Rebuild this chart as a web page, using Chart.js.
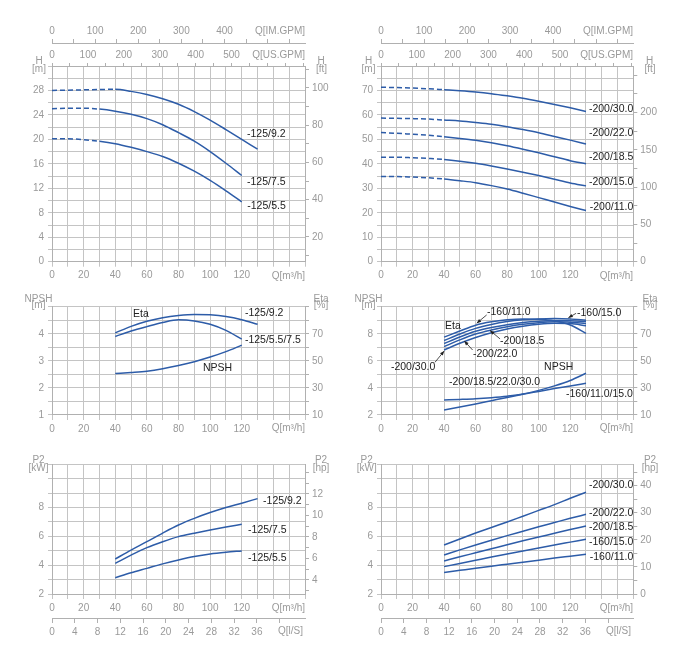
<!DOCTYPE html>
<html><head><meta charset="utf-8">
<script src="https://cdn.jsdelivr.net/npm/chart.js@4/dist/chart.umd.min.js"></script>
<style>
html,body{margin:0;padding:0;background:#fff;}
#wrap{position:relative;width:697px;height:646px;overflow:hidden;}
canvas{position:absolute;left:0;top:0;width:697px;height:646px;}
</style></head><body><div id="wrap">
<canvas id="c0" width="697" height="646"></canvas>
<canvas id="c1" width="697" height="646"></canvas>
<canvas id="c2" width="697" height="646"></canvas>
<canvas id="c3" width="697" height="646"></canvas>
<canvas id="c4" width="697" height="646"></canvas>
<canvas id="c5" width="697" height="646"></canvas>
</div>
<script>
// ---------------- DATA ----------------
const Q_H130 = [0,10,20,30,40,50,60,70,80,90,100,110,120,130];
const Q_H120 = [0,10,20,30,40,50,60,70,80,90,100,110,120];
const Q_OP130 = [40,50,60,70,80,90,100,110,120,130];
const Q_OP120 = [40,50,60,70,80,90,100,110,120];

// Head curves [m]
const head_125_9_2 = [28.0,28.05,28.1,28.15,28.2,27.85,27.35,26.65,25.75,24.55,23.15,21.6,20.0,18.4];
const head_125_7_5 = [25.0,25.1,25.1,24.95,24.6,24.1,23.4,22.4,21.1,19.7,18.0,16.1,14.1];
const head_125_5_5 = [20.1,20.1,19.95,19.7,19.3,18.7,18.0,17.2,16.1,14.8,13.3,11.6,9.8];

const head_200_30 = [71.3,71.2,71.0,70.7,70.3,69.9,69.4,68.7,67.8,66.8,65.6,64.3,62.9,61.4];
const head_200_22 = [58.7,58.6,58.5,58.3,57.9,57.5,56.9,56.2,55.2,54.0,52.7,51.2,49.7,48.1];
const head_200_18_5 = [52.8,52.5,52.1,51.7,51.1,50.4,49.6,48.6,47.4,46.0,44.5,42.9,41.3,40.0];
const head_200_15 = [42.7,42.7,42.5,42.2,41.8,41.1,40.2,39.1,37.9,36.6,35.2,33.7,32.2,31.0];
const head_200_11 = [34.8,34.8,34.6,34.3,33.8,33.1,32.3,31.1,29.7,28.0,26.2,24.4,22.6,20.9];

// Efficiency [%] and NPSH [m]
const eta_125_9_2 = [70.7,75.5,79.3,81.9,83.5,84.3,84.0,82.8,80.4,77.0];
const eta_125_55_75 = [68.0,72.0,75.3,78.3,80.3,79.5,77.0,72.5,66.0];
const npsh_125 = [2.53,2.57,2.62,2.71,2.83,2.97,3.14,3.34,3.58];

const eta_160_11 = [67.5,72.0,76.3,78.8,80.3,81.0,80.8,79.6,76.5,70.3];
const eta_160_15 = [65.0,69.8,74.0,76.9,79.0,80.3,81.0,81.3,81.0,80.0];
const eta_200_18_5 = [62.8,67.6,71.8,74.6,76.7,78.3,79.3,79.8,79.7,79.0];
const eta_200_22 = [60.5,65.5,69.8,72.8,75.2,77.0,78.2,78.8,78.6,77.5];
const eta_200_30 = [58.0,63.0,67.3,70.8,73.6,75.6,77.0,77.7,77.5,76.0];
const npsh_200 = [3.11,3.15,3.2,3.28,3.39,3.55,3.82,4.15,4.55,5.08];
const npsh_160 = [2.37,2.59,2.82,3.06,3.30,3.53,3.74,3.95,4.15,4.34];

// Power P2 [kW]
const p2_125_9_2 = [4.43,5.05,5.63,6.23,6.79,7.25,7.65,8.0,8.30,8.62];
const p2_125_7_5 = [4.13,4.7,5.22,5.63,5.98,6.22,6.44,6.65,6.84];
const p2_125_5_5 = [3.13,3.47,3.78,4.09,4.36,4.6,4.78,4.9,4.99];

const p2_200_30 = [5.40,5.82,6.23,6.62,7.0,7.4,7.8,8.2,8.64,9.06];
const p2_200_22 = [4.71,5.06,5.40,5.73,6.05,6.36,6.67,6.96,7.25,7.53];
const p2_200_18_5 = [4.29,4.58,4.86,5.14,5.42,5.69,5.95,6.21,6.47,6.72];
const p2_160_15 = [3.90,4.12,4.34,4.56,4.77,4.98,5.19,5.40,5.60,5.80];
const p2_160_11 = [3.50,3.64,3.78,3.93,4.07,4.21,4.35,4.49,4.62,4.75];

// Tick labels
const Q_LABELS = [0,20,40,60,80,100,120];
const USGPM_LABELS = [0,100,200,300,400,500];
const IMGPM_LABELS = [0,100,200,300,400];
const LS_LABELS = [0,4,8,12,16,20,24,28,32,36];
const H125_LABELS = [0,4,8,12,16,20,24,28];
const FT125_LABELS = [20,40,60,80,100];
const H200_LABELS = [0,10,20,30,40,50,60,70];
const FT200_LABELS = [0,50,100,150,200];
const NPSH125_LABELS = [1,2,3,4];
const NPSH200_LABELS = [2,4,6,8];
const ETA_LABELS = [10,30,50,70];
const KW_LABELS = [2,4,6,8];
const HP125_LABELS = [4,6,8,10,12];
const HP200_LABELS = [0,10,20,30,40];

// unit conversions for secondary axes
const Q_MAX = 160;
const TO_USGPM = 4.40287, TO_IMGPM = 3.66615, TO_LS = 1/3.6;

// ---------------- STYLE ----------------
const FONT = '"Liberation Sans", Arial, sans-serif';
const BLUE = '#2d5ca8';
const GRID = '#c4c4c4';
const BORDER = '#b0b0b0';
const TICK = '#9a9a9a';
const TEXT = '#222222';

const fixW = w => s => { s.width = w; s.paddingTop = 0; s.paddingBottom = 0; s.paddingLeft = 0; s.paddingRight = 0; };
const fixH = h => s => { s.height = h; s.paddingTop = 0; s.paddingBottom = 0; s.paddingLeft = 0; s.paddingRight = 0; };
const lab = arr => v => arr.includes(v) ? String(v) : '';
const tickFont = {size: 10, family: FONT, lineHeight: 1.2};

function xQ(h) {
  return {type:'linear', position:'bottom', weight:0, min:0, max:Q_MAX, afterFit:fixH(h),
    grid:{color:GRID, tickColor:GRID, tickLength:5}, border:{color:BORDER},
    ticks:{stepSize:10, autoSkip:false, maxRotation:0, minRotation:0, padding:3, color:TICK, font:tickFont, callback:lab(Q_LABELS)}};
}
function xTop(max, step, labels, h, weight, tl, pad) {
  return {type:'linear', position:'top', weight, min:0, max, afterFit:fixH(h),
    grid:{drawOnChartArea:false, tickColor:BORDER, tickLength:tl}, border:{color:BORDER},
    ticks:{stepSize:step, includeBounds:false, autoSkip:false, maxRotation:0, minRotation:0, padding:pad, color:TICK, font:tickFont, callback:lab(labels)}};
}
function xLs(h) {
  return {type:'linear', position:'bottom', weight:1, min:0, max:Q_MAX*TO_LS, afterFit:fixH(h),
    afterBuildTicks: s => { s.ticks = s.ticks.filter(t => t.value <= 40); },
    grid:{drawOnChartArea:false, tickColor:BORDER, tickLength:5}, border:{color:BORDER},
    ticks:{stepSize:4, includeBounds:false, autoSkip:false, maxRotation:0, minRotation:0, padding:3, color:TICK, font:tickFont, callback:lab(LS_LABELS)}};
}
function yLeft(min, max, step, labels) {
  return {type:'linear', position:'left', min, max, afterFit:fixW(40),
    grid:{color:GRID, tickColor:GRID, tickLength:4}, border:{color:BORDER},
    ticks:{stepSize:step, autoSkip:false, padding:4, color:TICK, font:tickFont, callback:lab(labels)}};
}
function yRight(min, max, step, labels) {
  return {type:'linear', position:'right', min, max, afterFit:fixW(40),
    grid:{drawOnChartArea:false, tickColor:BORDER, tickLength:4}, border:{color:BORDER},
    ticks:{stepSize:step, includeBounds:false, autoSkip:false, padding:3, color:TICK, font:tickFont, callback:lab(labels)}};
}

function series(q, v, yAxisID, dashEnd) {
  const ds = {data: q.map((x,i)=>({x, y:v[i]})), yAxisID, borderColor:BLUE, borderWidth:1.5,
    pointRadius:0, fill:false, cubicInterpolationMode:'monotone'};
  if (dashEnd !== undefined) ds.segment = {borderDash: c => c.p1.parsed.x <= dashEnd ? [5,3] : undefined};
  return ds;
}

function annot(items) {
  return {id:'annot', afterDatasetsDraw(chart) {
    const ctx = chart.ctx; ctx.save();
    for (const it of items) {
      const ys = chart.scales[it.axis || 'y'];
      if (it.arrow) {
        const [q0,v0,q1,v1] = it.arrow;
        const x0 = chart.scales.x.getPixelForValue(q0), y0 = ys.getPixelForValue(v0);
        const x1 = chart.scales.x.getPixelForValue(q1), y1 = ys.getPixelForValue(v1);
        ctx.strokeStyle = TEXT; ctx.fillStyle = TEXT; ctx.lineWidth = 0.8;
        ctx.beginPath(); ctx.moveTo(x0,y0); ctx.lineTo(x1,y1); ctx.stroke();
        const a = Math.atan2(y1-y0, x1-x0), L = 4.5, W = 1.8;
        ctx.beginPath(); ctx.moveTo(x1,y1);
        ctx.lineTo(x1 - L*Math.cos(a) + W*Math.sin(a), y1 - L*Math.sin(a) - W*Math.cos(a));
        ctx.lineTo(x1 - L*Math.cos(a) - W*Math.sin(a), y1 - L*Math.sin(a) + W*Math.cos(a));
        ctx.closePath(); ctx.fill();
        continue;
      }
      ctx.font = (it.size || 10) + 'px ' + FONT;
      ctx.fillStyle = it.color || TEXT;
      ctx.textAlign = it.align || 'left';
      ctx.textBaseline = 'middle';
      let x, y;
      if (it.q !== undefined) { x = chart.scales.x.getPixelForValue(it.q); y = ys.getPixelForValue(it.v); }
      else { x = it.px; y = it.py; }
      ctx.fillText(it.s, x, y);
    }
    ctx.restore();
  }};
}

const W = 697, H = 646;
function make(id, area, scales, topH, botH, datasets, items) {
  const padding = {left: area.l - 40, right: W - area.r - 40, top: area.t - topH, bottom: H - area.b - botH};
  return new Chart(document.getElementById(id), {
    type:'line',
    data:{datasets},
    options:{responsive:false, animation:false, events:[], devicePixelRatio:1,
      layout:{padding, autoPadding:false},
      plugins:{legend:{display:false}, tooltip:{enabled:false}, title:{display:false}},
      scales},
    plugins:[annot(items)]
  });
}
const T = (s, px, py, align, color, size) => ({s, px, py, align: align || 'center', color: color || TICK, size: size || 10});
const L = (s, q, v, align, axis) => ({s, q, v, align: align || 'left', axis, size: 10.5});

// ---------------- PANELS ----------------
const AL = {l:52, r:305}, AR = {l:381, r:633.3};

// Top-left: head 125
make('c0', {...AL, t:66, b:261.7}, {
  x: xQ(22),
  xus: xTop(Q_MAX*TO_USGPM, 50, USGPM_LABELS, 23, 0, 3, 2),
  xim: xTop(Q_MAX*TO_IMGPM, 50, IMGPM_LABELS, 20, 1, 4, 2),
  y: yLeft(0, 32, 2, H125_LABELS),
  y2: yRight((0+2.05)/0.3048, (32+2.05)/0.3048, 10, FT125_LABELS)
}, 43, 22, [
  series(Q_H130, head_125_9_2, 'y', 40),
  series(Q_H120, head_125_7_5, 'y', 30),
  series(Q_H120, head_125_5_5, 'y', 30)
], [
  L('-125/9.2', 123.3, 20.9), L('-125/7.5', 123.3, 13.0), L('-125/5.5', 123.5, 9.1),
  T('Q[IM.GPM]', 305, 31, 'right'), T('Q[US.GPM]', 305, 55, 'right'), T('Q[m³/h]', 305, 276, 'right'),
  T('H', 39, 61.7), T('[m]', 39, 69.5), T('H', 321, 61.7), T('[ft]', 321.5, 69.5)
]);

// Top-right: head 200
make('c1', {...AR, t:66, b:261.7}, {
  x: xQ(22),
  xus: xTop(Q_MAX*TO_USGPM, 50, USGPM_LABELS, 23, 0, 3, 2),
  xim: xTop(Q_MAX*TO_IMGPM, 50, IMGPM_LABELS, 20, 1, 4, 2),
  y: yLeft(0, 80, 5, H200_LABELS),
  y2: yRight(0, 80/0.3048, 25, FT200_LABELS)
}, 43, 22, [
  series(Q_H130, head_200_30, 'y', 40),
  series(Q_H130, head_200_22, 'y', 40),
  series(Q_H130, head_200_18_5, 'y', 40),
  series(Q_H130, head_200_15, 'y', 40),
  series(Q_H130, head_200_11, 'y', 40)
], [
  L('-200/30.0', 160, 62.3, 'right'), L('-200/22.0', 160, 52.7, 'right'), L('-200/18.5', 160, 42.9, 'right'),
  L('-200/15.0', 160, 32.7, 'right'), L('-200/11.0', 160, 22.5, 'right'),
  T('Q[IM.GPM]', 633, 31, 'right'), T('Q[US.GPM]', 633, 55, 'right'), T('Q[m³/h]', 633, 276, 'right'),
  T('H', 368.5, 61.7), T('[m]', 368.5, 69.5), T('H', 649.5, 61.7), T('[ft]', 650, 69.5)
]);

// Middle-left: Eta / NPSH 125
make('c2', {...AL, t:306.7, b:415}, {
  x: xQ(22),
  y: yLeft(1, 5, 0.5, NPSH125_LABELS),
  y2: yRight(10, 90, 10, ETA_LABELS)
}, 0, 22, [
  series(Q_OP130, eta_125_9_2, 'y2'),
  series(Q_OP120, eta_125_55_75, 'y2'),
  series(Q_OP120, npsh_125, 'y')
], [
  L('Eta', 51.2, 4.73), L('-125/9.2', 122, 4.77), L('-125/5.5/7.5', 122, 3.77), L('NPSH', 95.5, 2.74),
  T('Q[m³/h]', 305, 428.3, 'right'),
  T('NPSH', 38.5, 299.5), T('[m]', 38.5, 305.5), T('Eta', 321, 299.5), T('[%]', 321, 305.5)
]);

// Middle-right: Eta / NPSH 160-200
make('c3', {...AR, t:306.7, b:415}, {
  x: xQ(22),
  y: yLeft(2, 10, 1, NPSH200_LABELS),
  y2: yRight(10, 90, 10, ETA_LABELS)
}, 0, 22, [
  series(Q_OP130, eta_160_11, 'y2'),
  series(Q_OP130, eta_160_15, 'y2'),
  series(Q_OP130, eta_200_18_5, 'y2'),
  series(Q_OP130, eta_200_22, 'y2'),
  series(Q_OP130, eta_200_30, 'y2'),
  series(Q_OP130, npsh_200, 'y'),
  series(Q_OP130, npsh_160, 'y')
], [
  L('Eta', 40.6, 8.6), L('-160/11.0', 67.2, 9.63), L('-160/15.0', 124.3, 9.56),
  L('-200/18.5', 75.5, 7.47), L('-200/22.0', 58.3, 6.48), L('-200/30.0', 6.3, 5.57),
  L('NPSH', 103.4, 5.57), L('-200/18.5/22.0/30.0', 43.1, 4.44), L('-160/11.0/15.0', 117.3, 3.55),
  {arrow:[67.0, 9.39, 60.7, 8.78]}, {arrow:[123.7, 9.51, 118.8, 9.18]},
  {arrow:[75.5, 7.62, 69.1, 8.25]}, {arrow:[58.1, 6.80, 52.8, 7.47]},
  {arrow:[34.2, 5.89, 40.1, 6.73]},
  T('Q[m³/h]', 633, 428.3, 'right'),
  T('NPSH', 368.5, 299.5), T('[m]', 368.5, 305.5), T('Eta', 650, 299.5), T('[%]', 650, 305.5)
]);

// Bottom-left: P2 125
make('c4', {...AL, t:464.3, b:594}, {
  x: xQ(24),
  xls: xLs(22),
  y: yLeft(2, 11, 1, KW_LABELS),
  y2: yRight(2/0.7457, 11/0.7457, 1, HP125_LABELS)
}, 0, 46, [
  series(Q_OP130, p2_125_9_2, 'y'),
  series(Q_OP120, p2_125_7_5, 'y'),
  series(Q_OP120, p2_125_5_5, 'y')
], [
  L('-125/9.2', 133.5, 8.45), L('-125/7.5', 124, 6.44), L('-125/5.5', 124, 4.5),
  T('Q[m³/h]', 305, 608.3, 'right'), T('Q[l/S]', 303, 631.7, 'right'),
  T('P2', 38.5, 460.3), T('[kW]', 38.5, 468), T('P2', 321, 460.3), T('[hp]', 321, 468)
]);

// Bottom-right: P2 160-200
make('c5', {...AR, t:464.3, b:594}, {
  x: xQ(24),
  xls: xLs(22),
  y: yLeft(2, 11, 1, KW_LABELS),
  y2: yRight(0, 9*40/7.523, 5, HP200_LABELS)
}, 0, 46, [
  series(Q_OP130, p2_200_30, 'y'),
  series(Q_OP130, p2_200_22, 'y'),
  series(Q_OP130, p2_200_18_5, 'y'),
  series(Q_OP130, p2_160_15, 'y'),
  series(Q_OP130, p2_160_11, 'y')
], [
  L('-200/30.0', 160, 9.56, 'right'), L('-200/22.0', 160, 7.62, 'right'), L('-200/18.5', 160, 6.65, 'right'),
  L('-160/15.0', 160, 5.61, 'right'), L('-160/11.0', 160, 4.57, 'right'),
  T('Q[m³/h]', 633, 608.3, 'right'), T('Q[l/S]', 631, 631.7, 'right'),
  T('P2', 366.7, 460.3), T('[kW]', 366.7, 468), T('P2', 650, 460.3), T('[hp]', 650, 468)
]);
</script></body></html>
